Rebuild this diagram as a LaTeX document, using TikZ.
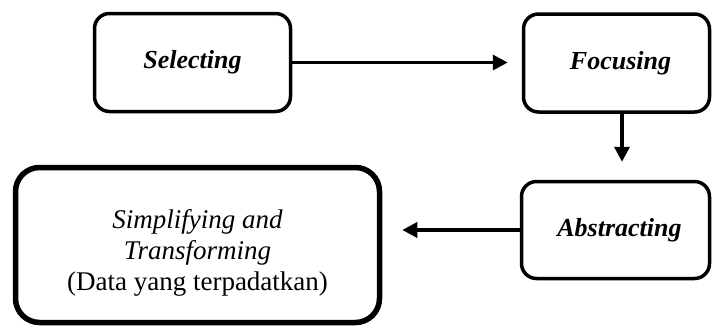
\documentclass[tikz,border=0pt]{standalone}
\usepackage{fontspec}
\setmainfont{Liberation Serif}
\usepackage{tikz}
\usetikzlibrary{arrows.meta,positioning}

\tikzset{
  stagebox/.style={draw, line width=1.75pt, rounded corners=7.5pt, align=center,
    minimum width=94pt, minimum height=48.5pt, inner sep=0pt,
    font=\fontsize{13}{15}\selectfont\bfseries\itshape},
  resultbox/.style={draw, line width=2.75pt, rounded corners=12pt,
    minimum width=182pt, minimum height=77.5pt, inner sep=0pt},
  resulttext/.style={align=center, inner sep=0pt, font=\fontsize{13.5}{15.5}\selectfont},
  flow/.style={->, line width=1.75pt}
}

\begin{document}
\begin{tikzpicture}[x=0.5pt, y=-0.5pt, >={Triangle[length=7.5pt,width=7.5pt]}]
\useasboundingbox (0,0) rectangle (712,327);
% stages
\node[stagebox, minimum width=98pt, minimum height=49pt] (sel) at (192.5,62.5) {Selecting};
\node[stagebox, minimum width=93pt, minimum height=49pt] (foc) at (616.5,63) {\hspace*{4pt}Focusing};
\node[stagebox] (abs) at (615.5,230) {\hspace*{4pt}Abstracting};
% result
\node[resultbox] (simp) at (197.5,245) {};
\node[resulttext] (simptext) at ([yshift=-4pt]simp.center) {\textit{Simplifying and}\\ \textit{Transforming}\\ (Data yang terpadatkan)};
% connectors
\coordinate (down) at ([xshift=2.75pt]foc.south);
\draw[flow, shorten >=7pt] (sel.east) -- (sel.east -| foc.west);
\draw[flow, shorten >=9pt] (down) -- (down |- abs.north);
\draw[flow, shorten >=10pt] (abs.west) -- (abs.west -| simp.east);
\end{tikzpicture}
\end{document}
